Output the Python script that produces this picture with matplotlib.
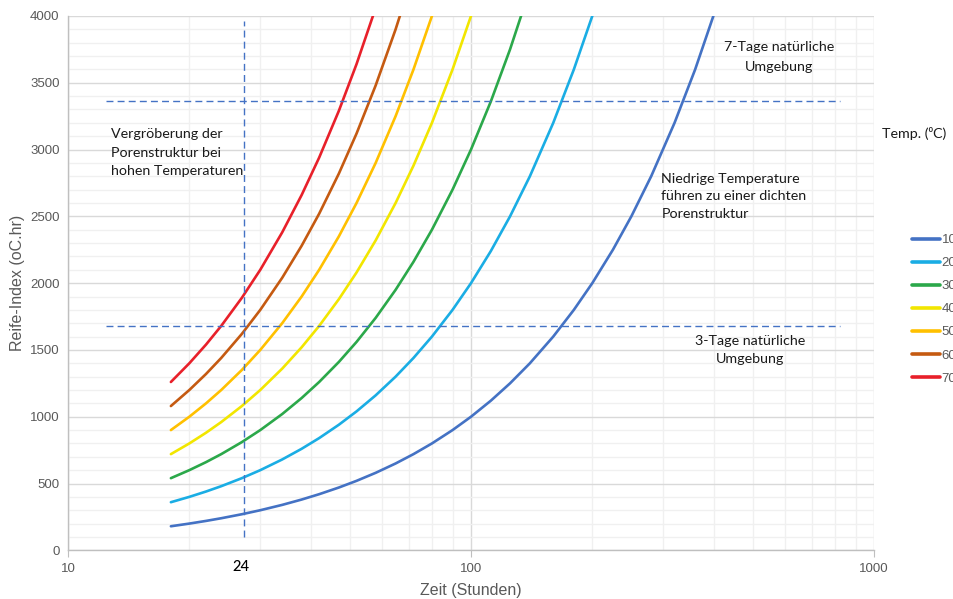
import matplotlib
matplotlib.use("Agg")
import matplotlib.pyplot as plt
from matplotlib.ticker import FixedLocator, NullFormatter

# Stunden (gemeinsame Zeitachse), Werte je Temperatur
hours = [18, 20, 22, 24, 27, 30, 34, 38, 42, 47, 52, 58, 65, 72, 80, 90,
         100, 112, 125, 140, 160, 180, 200, 225, 250, 280, 320, 360, 410]

reife_10 = [180, 200, 220, 240, 270, 300, 340, 380, 420, 470, 520, 580, 650,
            720, 800, 900, 1000, 1120, 1250, 1400, 1600, 1800, 2000, 2250,
            2500, 2800, 3200, 3600, 4100]
reife_20 = [360, 400, 440, 480, 540, 600, 680, 760, 840, 940, 1040, 1160,
            1300, 1440, 1600, 1800, 2000, 2240, 2500, 2800, 3200, 3600, 4000,
            4500]
reife_30 = [540, 600, 660, 720, 810, 900, 1020, 1140, 1260, 1410, 1560, 1740,
            1950, 2160, 2400, 2700, 3000, 3360, 3750, 4200]
reife_40 = [720, 800, 880, 960, 1080, 1200, 1360, 1520, 1680, 1880, 2080,
            2320, 2600, 2880, 3200, 3600, 4000, 4480]
reife_50 = [900, 1000, 1100, 1200, 1350, 1500, 1700, 1900, 2100, 2350, 2600,
            2900, 3250, 3600, 4000, 4500]
reife_60 = [1080, 1200, 1320, 1440, 1620, 1800, 2040, 2280, 2520, 2820, 3120,
            3480, 3900, 4320]
reife_70 = [1260, 1400, 1540, 1680, 1890, 2100, 2380, 2660, 2940, 3290, 3640,
            4060]

temps = ["10", "20", "30", "40", "50", "60", "70"]
series = [reife_10, reife_20, reife_30, reife_40, reife_50, reife_60, reife_70]
colors = ["#4472C4", "#1AADE4", "#2BA84A", "#F2E600", "#FFC000", "#C55A11",
          "#E8202A"]

# Hilfslinien (3 Tage / 7 Tage, 24 h)
guide_y = [1680, 3360]
guide_x_range = [12.4, 823]
guide_t = 27.3
guide_t_range = [100, 3960]

text_font = ["Lato", "DejaVu Sans"]
axis_font = ["Liberation Sans", "DejaVu Sans"]
gray = "#595959"
ink = "#1a1a1a"

fig = plt.figure(figsize=(9.54, 5.99), dpi=100)
ax = fig.add_axes([0.0713, 0.0813, 0.9161 - 0.0713, 0.9733 - 0.0813])

lines = []
for lab, vals, c in zip(temps, series, colors):
    ln, = ax.plot(hours[:len(vals)], vals, color=c, lw=1.9, label=lab,
                  solid_capstyle="round", zorder=3)
    lines.append(ln)

ax.set_xscale("log")
ax.set_xlim(10, 1000)
ax.set_ylim(0, 4000)

ax.xaxis.set_major_locator(FixedLocator([10, 100, 1000]))
ax.xaxis.set_minor_locator(FixedLocator([20, 30, 40, 50, 60, 70, 80, 90,
                                         200, 300, 400, 500, 600, 700, 800, 900]))
ax.xaxis.set_minor_formatter(NullFormatter())
ax.set_xticklabels(["10", "100", "1000"])
ax.set_yticks(range(0, 4001, 500))
ax.set_yticks(range(0, 4001, 100), minor=True)

ax.grid(which="major", color="#D9D9D9", lw=1.0, zorder=0)
ax.grid(which="minor", color="#F0F0F0", lw=1.0, zorder=0)
ax.set_axisbelow(True)

for s in ["top", "right"]:
    ax.spines[s].set_visible(False)
for s in ["left", "bottom"]:
    ax.spines[s].set_color("#BFBFBF")
    ax.spines[s].set_linewidth(1.0)

ax.tick_params(axis="x", which="major", length=5, color="#BFBFBF",
               labelsize=9.5, labelcolor=gray, pad=4)
ax.tick_params(axis="x", which="minor", length=0)
ax.tick_params(axis="y", which="both", length=0, labelsize=9.5,
               labelcolor=gray, pad=6)
for t in ax.get_xticklabels() + ax.get_yticklabels():
    t.set_family(axis_font)

ax.set_xlabel("Zeit (Stunden)", fontsize=11.5, color=gray, family=axis_font,
              labelpad=6)
ax.set_ylabel("Reife-Index (oC.hr)", fontsize=11.5, color=gray,
              family=axis_font, labelpad=4)

# gestrichelte Hilfslinien
for gy in guide_y:
    ax.plot(guide_x_range, [gy, gy], color="#4472C4", lw=1.0, ls=(0, (5, 3)),
            zorder=4)
ax.plot([guide_t, guide_t], guide_t_range, color="#4472C4", lw=1.0,
        ls=(0, (5, 3)), zorder=4)

ax.text(guide_t * 0.985, -70, "24", fontsize=10.5, family=text_font,
        ha="center", va="top", color="black", fontweight="medium")

ax.text(12.8, 2975, "Vergröberung der\nPorenstruktur bei\nhohen Temperaturen",
        fontsize=10.3, family=text_font, ha="left", va="center",
        linespacing=1.65, color=ink)
ax.text(580, 3692, "7-Tage natürliche\nUmgebung", fontsize=10.3,
        family=text_font, ha="center", va="center", linespacing=1.75,
        color=ink)
ax.text(297, 2650, "Niedrige Temperature\nführen zu einer dichten\nPorenstruktur",
        fontsize=10.3, family=text_font, ha="left", va="center",
        linespacing=1.55, color=ink)
ax.text(493, 1500, "3-Tage natürliche\nUmgebung", fontsize=10.3,
        family=text_font, ha="center", va="center", linespacing=1.65,
        color=ink)

fig.text(882 / 954, 1 - 134 / 599, "Temp. (⁰C)", fontsize=10.3,
         family=text_font, ha="left", va="center", color=ink)

leg = fig.legend(handles=lines, labels=temps, loc="upper left",
                 bbox_to_anchor=(912 / 954, 1 - 234 / 599), frameon=False,
                 handlelength=2.1, handletextpad=0.15, labelspacing=0.82,
                 borderpad=0, borderaxespad=0, fontsize=9.5)
for t in leg.get_texts():
    t.set_color(gray)
    t.set_family(axis_font)
for h in leg.legend_handles:
    h.set_linewidth(2.6)

fig.savefig("out.png", dpi=100, facecolor="white")
